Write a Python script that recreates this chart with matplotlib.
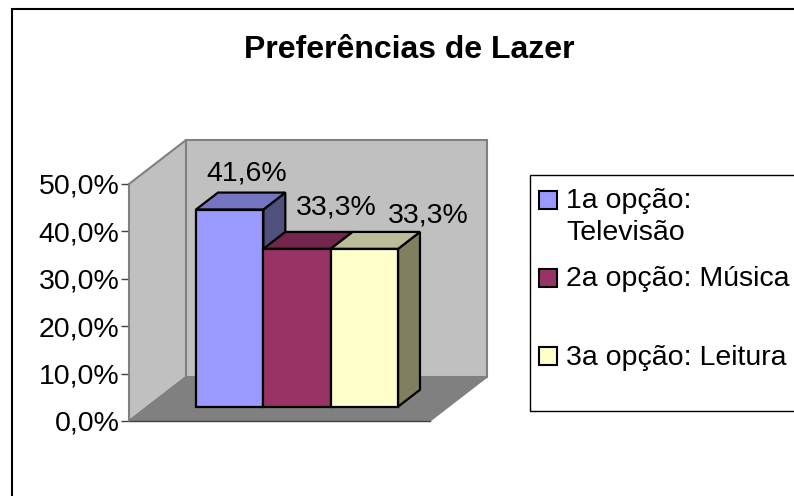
import matplotlib
matplotlib.use('Agg')
import matplotlib.pyplot as plt
from matplotlib.patches import Polygon, Rectangle

plt.rcParams['font.family'] = ['Liberation Sans', 'DejaVu Sans']

title = 'Preferências de Lazer'
labels = ['1a opção:\nTelevisão', '2a opção: Música', '3a opção: Leitura']
values = [41.6, 33.3, 33.3]
value_labels = ['41,6%', '33,3%', '33,3%']
ticks = [0, 10, 20, 30, 40, 50]
tick_labels = ['0,0%', '10,0%', '20,0%', '30,0%', '40,0%', '50,0%']
colors = ['#9999ff', '#993366', '#ffffcc']
tops = ['#7575c2', '#72264c', '#bcbc98']
sides = ['#50507f', '#50507f', '#808060']

W, H = 794, 496
fig = plt.figure(figsize=(W / 100, H / 100), dpi=100)

# pixel helper for the chart frame
bg = fig.add_axes([0, 0, 1, 1], zorder=0)
bg.set_xlim(0, W)
bg.set_ylim(H, 0)
bg.axis('off')
bg.add_patch(Rectangle((11.5, 8.5), W, H, fc='white', ec='black', lw=1.5))
bg.text(409, 50, title, fontsize=23, fontweight='bold', ha='center', va='center')

# front plane of the 3d box: y axis runs 421 -> 184 px
ax = fig.add_axes([129 / W, 1 - 421 / H, 301 / W, 237 / H], zorder=1)
ax.set_xlim(-1.22, 3.25)
ax.set_ylim(0, 50)
ax.patch.set_visible(False)
for s in ['top', 'right', 'bottom']:
    ax.spines[s].set_visible(False)
ax.spines['left'].set_color('#808080')
ax.spines['left'].set_linewidth(1.2)
ax.set_xticks([])
ax.set_yticks(ticks)
ax.set_yticklabels(tick_labels, fontsize=20.5)
ax.tick_params(axis='y', length=6, width=1, pad=1, color='#404040')

# depth = 1 is the back wall, 57 px right and 44 px up
ox = 57 / 67.3
oy = 44 / 4.74

def proj(x, y, d):
    return (x + d * ox, y + d * oy)

def face(pts, **kw):
    ax.add_patch(Polygon([proj(*p) for p in pts], closed=True, clip_on=False, **kw))

x0, x1 = -1.22, 3.25
wall = dict(fc='#c0c0c0', ec='#808080', lw=1.5, joinstyle='miter')
face([(x0, 0, 0), (x0, 50, 0), (x0, 50, 1), (x0, 0, 1)], zorder=1, **wall)
face([(x0, 0, 1), (x0, 50, 1), (x1, 50, 1), (x1, 0, 1)], zorder=1, **wall)
face([(x0, 0, 0), (x0, 0, 1), (x1, 0, 1), (x1, 0, 0)], zorder=1.5, fc='#808080', ec='#808080', lw=1)
ax.plot([x0, x1], [0, 0], color='#404040', lw=1, clip_on=False, zorder=1.6)

d0, d1 = 0.325, 0.71
edge = dict(ec='black', lw=1.6, joinstyle='miter')
for i, v in enumerate(values):
    l, r = i - 0.5, i + 0.5
    z = 3 + i
    face([(r, 0, d0), (r, v, d0), (r, v, d1), (r, 0, d1)], fc=sides[i], zorder=z, **edge)
    face([(l, v, d0), (l, v, d1), (r, v, d1), (r, v, d0)], fc=tops[i], zorder=z, **edge)
    face([(l, 0, d0), (l, v, d0), (r, v, d0), (r, 0, d0)], fc=colors[i], zorder=z, **edge)

# value labels and legend go above the bars
top = fig.add_axes([0, 0, 1, 1], zorder=2)
top.set_xlim(0, W)
top.set_ylim(H, 0)
top.axis('off')
lab_x = [247, 336, 428]
lab_y = [174, 207, 216]
for x, y, s in zip(lab_x, lab_y, value_labels):
    top.text(x, y, s, fontsize=20.5, ha='center', va='center')

# legend box runs off the right edge
top.add_patch(Rectangle((529.5, 174.5), W, 236, fc='white', ec='black', lw=1))
text_y = [217, 279, 358]
swatch_y = [191, 269, 347]
for ty, sy, c, s in zip(text_y, swatch_y, colors, labels):
    top.add_patch(Rectangle((539, sy), 17.5, 17.5, fc=c, ec='black', lw=1.5))
    top.text(566, ty, s, fontsize=20.5, va='center', linespacing=1.28)

fig.savefig('out.png', dpi=100)
